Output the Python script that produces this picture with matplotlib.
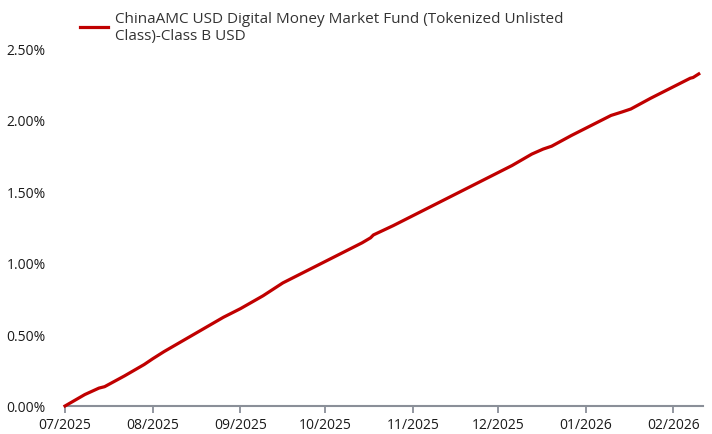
import numpy as np
import pandas as pd
import matplotlib
matplotlib.use("Agg")
import matplotlib.pyplot as plt
import matplotlib.dates as mdates
from matplotlib.ticker import FuncFormatter

plt.rcParams["font.family"] = ["Open Sans", "DejaVu Sans"]

# cumulative return (%)
dates = pd.to_datetime([
    "2025-07-01", "2025-07-08", "2025-07-13", "2025-07-15", "2025-07-22",
    "2025-07-29", "2025-08-01", "2025-08-05", "2025-08-12", "2025-08-19",
    "2025-08-26", "2025-09-01", "2025-09-09", "2025-09-16", "2025-09-23",
    "2025-09-30", "2025-10-07", "2025-10-14", "2025-10-17", "2025-10-18",
    "2025-10-25", "2025-11-01", "2025-11-08", "2025-11-15", "2025-11-22",
    "2025-11-29", "2025-12-06", "2025-12-13", "2025-12-17", "2025-12-20",
    "2025-12-27", "2026-01-03", "2026-01-10", "2026-01-14", "2026-01-17",
    "2026-01-24", "2026-01-31", "2026-02-07", "2026-02-08", "2026-02-10",
])
cum_return = [
    0.00, 0.08, 0.125, 0.135, 0.21,
    0.29, 0.33, 0.38, 0.46, 0.54,
    0.62, 0.68, 0.77, 0.86, 0.93,
    1.00, 1.07, 1.14, 1.175, 1.195,
    1.26, 1.33, 1.40, 1.47, 1.54,
    1.61, 1.68, 1.76, 1.795, 1.815,
    1.89, 1.96, 2.03, 2.055, 2.075,
    2.15, 2.22, 2.29, 2.295, 2.32,
]
series_label = "ChinaAMC USD Digital Money Market Fund (Tokenized Unlisted\nClass)-Class B USD"
y_ticks = [0.0, 0.5, 1.0, 1.5, 2.0, 2.5]

W, H = 712, 435
fig = plt.figure(figsize=(W / 100, H / 100), dpi=100)
ax = fig.add_axes([65 / W, 28 / H, 638 / W, 365 / H])

ax.plot(dates, cum_return, color="#c00000", lw=2.3, solid_joinstyle="round",
        label=series_label, clip_on=False, zorder=3)

ax.set_xlim(pd.Timestamp("2025-07-01"), pd.Timestamp("2026-02-11 12:00"))
ax.set_ylim(0, 2.55)
ax.set_yticks(y_ticks)
ax.yaxis.set_major_formatter(FuncFormatter(lambda v, p: f"{v:.2f}%"))
ax.xaxis.set_major_locator(mdates.MonthLocator())
ax.xaxis.set_major_formatter(mdates.DateFormatter("%m/%Y"))

for s in ["top", "right", "left"]:
    ax.spines[s].set_visible(False)
ax.spines["bottom"].set_color("#8a8f98")
ax.spines["bottom"].set_linewidth(1.5)
ax.tick_params(axis="x", length=5, width=1.3, color="#8a8f98", pad=3,
               labelsize=10, labelcolor="#1a1a1a")
ax.tick_params(axis="y", length=0, pad=14, labelsize=10, labelcolor="#1a1a1a")

fig.legend(loc="upper left", bbox_to_anchor=(80 / W, 1 - 12 / H), frameon=False,
           fontsize=11, handlelength=1.8, handletextpad=0.5,
           borderpad=0, borderaxespad=0, labelcolor="#333333")

fig.savefig("out.png", dpi=100)
plt.close(fig)
